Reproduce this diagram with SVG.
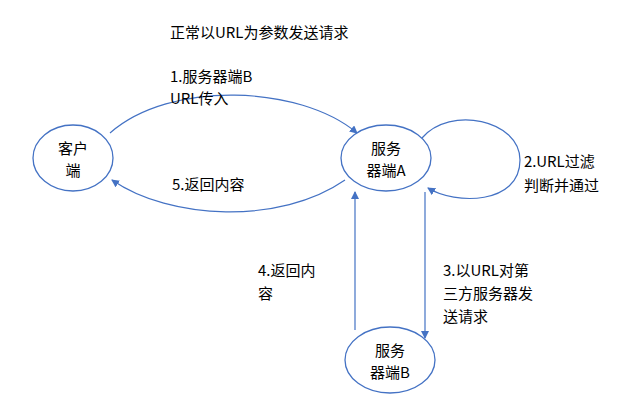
<svg xmlns="http://www.w3.org/2000/svg" width="640" height="420" viewBox="0 0 640 420">
<style>
.n{fill:#fff;stroke:#4472c4;stroke-width:1.3}
.e{fill:none;stroke:#4472c4;stroke-width:1.2;marker-end:url(#a)}
text{font-family:"Noto Sans CJK SC","Liberation Sans",sans-serif;font-size:15px;fill:#000}
.c{text-anchor:middle}
</style>
<defs><marker id="a" markerWidth="8" markerHeight="8" refX="7" refY="4" orient="auto" markerUnits="userSpaceOnUse"><path d="M0,0L8,4L0,8z" fill="#4472c4"/></marker></defs>
<rect width="640" height="420" fill="#fff"/>
<text x="170" y="38">正常以URL为参数发送请求</text>
<g id="edges">
<path class="e" d="M110,133 C170,80 300,85 357,133"/>
<path class="e" d="M345,180 C280,225 170,220 112,180"/>
<path class="e" d="M422,138 C450,105 520,120 520,160 C520,205 455,205 428,188"/>
<line class="e" x1="355" y1="330" x2="355" y2="192"/>
<line class="e" x1="425" y1="192" x2="425" y2="338"/>
</g>
<g id="client"><ellipse class="n" cx="73" cy="158" rx="40" ry="33"/><text class="c" x="73" y="154">客户</text><text class="c" x="73" y="176">端</text></g>
<g id="serverA"><ellipse class="n" cx="386" cy="158" rx="45" ry="33"/><text class="c" x="386" y="154">服务</text><text class="c" x="386" y="176">器端A</text></g>
<g id="serverB"><ellipse class="n" cx="390" cy="360" rx="45" ry="33"/><text class="c" x="390" y="356">服务</text><text class="c" x="390" y="378">器端B</text></g>
<text x="170" y="82">1.服务器端B</text>
<text x="170" y="104">URL传入</text>
<text x="172" y="190">5.返回内容</text>
<text x="524" y="167">2.URL过滤</text>
<text x="524" y="191">判断并通过</text>
<text x="258" y="276">4.返回内</text>
<text x="258" y="299">容</text>
<text x="443" y="276">3.以URL对第</text>
<text x="443" y="299">三方服务器发</text>
<text x="443" y="322">送请求</text>
</svg>
